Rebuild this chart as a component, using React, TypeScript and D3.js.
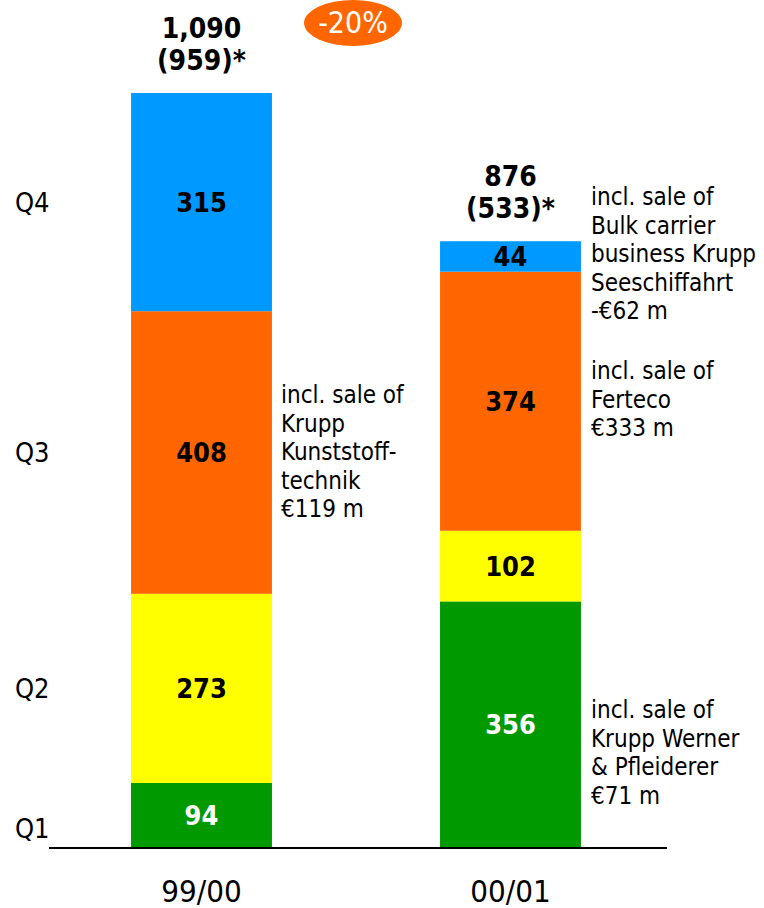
import React from "react";
import * as d3 from "d3";

// fiscal years on the x axis
const years = ["99/00", "00/01"];
// stack order, bottom to top
const quarters = ["Q1", "Q2", "Q3", "Q4"];
const values9900 = [94, 273, 408, 315];
const values0001 = [356, 102, 374, 44];
const totalLabels = ["1,090", "876"];
const adjustedLabels = ["(959)*", "(533)*"];
const changeLabel = "-20%";

const quarterColors = ["#009900", "#FFFF00", "#FF6600", "#0099FF"];
const labelColors = ["#ffffff", "#000000", "#000000", "#000000"];

// side notes
const noteKunststoff = ["incl. sale of", "Krupp", "Kunststoff-", "technik", "€119 m"];
const noteBulk = ["incl. sale of", "Bulk carrier", "business Krupp", "Seeschiffahrt", "-€62 m"];
const noteFerteco = ["incl. sale of", "Ferteco", "€333 m"];
const noteWerner = ["incl. sale of", "Krupp Werner", "& Pfleiderer", "€71 m"];

const FONT = "'DejaVu Sans Condensed', 'DejaVu Sans', sans-serif";

const W = 764;
const H = 908;
const baseY = 848;
const topY = 93;

export default function App() {
  const rows = years.map((y, i) => {
    const r: any = { year: y };
    quarters.forEach((q, j) => {
      r[q] = i === 0 ? values9900[j] : values0001[j];
    });
    return r;
  });

  const stack = d3.stack().keys(quarters);
  const series = stack(rows);
  const maxTotal = d3.max(rows, (r: any) => d3.sum(quarters, (q) => r[q])) as number;

  const x = d3
    .scaleBand()
    .domain(years)
    .range([47, 665])
    .paddingInner(0.544)
    .paddingOuter(0.272);

  const y = d3.scaleLinear().domain([0, maxTotal]).range([baseY, topY]);

  const bw = x.bandwidth();
  const lineH = 28.6;

  const note = (lines: string[], x0: number, y0: number, key: string) => (
    <text key={key} x={x0} y={y0} fontFamily={FONT} fontSize={24} fill="#000">
      {lines.map((l, i) => (
        <tspan key={i} x={x0} y={y0 + i * lineH}>
          {l}
        </tspan>
      ))}
    </text>
  );

  const x0 = x(years[0]) as number;
  const x1 = x(years[1]) as number;
  const mid = (x0 + x1 + bw) / 2;

  return (
    <svg
      width={W}
      height={H}
      style={{ position: "absolute", left: 0, top: 0, background: "#fff" }}
    >
      {/* stacked bars */}
      {series.map((s, j) => (
        <g key={quarters[j]}>
          {s.map((d: any, i) => (
            <rect
              key={i}
              x={x(d.data.year)}
              y={y(d[1])}
              width={bw}
              height={y(d[0]) - y(d[1])}
              fill={quarterColors[j]}
            />
          ))}
          {s.map((d: any, i) => (
            <text
              key={"t" + i}
              x={(x(d.data.year) as number) + bw / 2}
              y={(y(d[0]) + y(d[1])) / 2}
              dy="0.36em"
              textAnchor="middle"
              fontFamily={FONT}
              fontWeight="bold"
              fontSize={27}
              fill={labelColors[j]}
            >
              {d[1] - d[0]}
            </text>
          ))}
        </g>
      ))}

      {/* quarter labels at the left, aligned with the first bar */}
      {series.map((s, j) => {
        const c = (y(s[0][0]) + y(s[0][1])) / 2;
        return (
          <text
            key={"q" + j}
            x={15}
            y={j === 0 ? Math.max(c, baseY - 20) : c}
            dy="0.36em"
            fontFamily={FONT}
            fontSize={27}
            fill="#000"
          >
            {quarters[j]}
          </text>
        );
      })}

      {/* totals above bars */}
      {rows.map((r: any, i) => {
        const tot = d3.sum(quarters, (q) => r[q]);
        const cx = (x(r.year) as number) + bw / 2;
        return (
          <g key={"tot" + i}>
            <text
              x={cx}
              y={y(tot) - 55}
              textAnchor="middle"
              fontFamily={FONT}
              fontWeight="bold"
              fontSize={28}
              fill="#000"
            >
              {totalLabels[i]}
            </text>
            <text
              x={cx}
              y={y(tot) - 23}
              textAnchor="middle"
              fontFamily={FONT}
              fontWeight="bold"
              fontSize={28}
              fill="#000"
            >
              {adjustedLabels[i]}
            </text>
          </g>
        );
      })}

      {/* change bubble */}
      <ellipse cx={mid - 3} cy={23} rx={49} ry={23} fill="#FF6600" />
      <text
        x={mid - 3}
        y={33}
        textAnchor="middle"
        fontFamily={FONT}
        fontSize={30}
        fill="#fff"
      >
        {changeLabel}
      </text>

      {/* baseline */}
      <line x1={49} x2={667} y1={baseY} y2={baseY} stroke="#000" strokeWidth={2} />

      {/* category labels */}
      {years.map((yr) => (
        <text
          key={yr}
          x={(x(yr) as number) + bw / 2}
          y={902}
          textAnchor="middle"
          fontFamily={FONT}
          fontSize={31}
          fill="#000"
        >
          {yr}
        </text>
      ))}

      {/* notes */}
      {note(noteKunststoff, x0 + bw + 9, 403, "n1")}
      {note(noteBulk, x1 + bw + 10, 205, "n2")}
      {note(noteFerteco, x1 + bw + 10, 379, "n3")}
      {note(noteWerner, x1 + bw + 10, 718, "n4")}
    </svg>
  );
}
